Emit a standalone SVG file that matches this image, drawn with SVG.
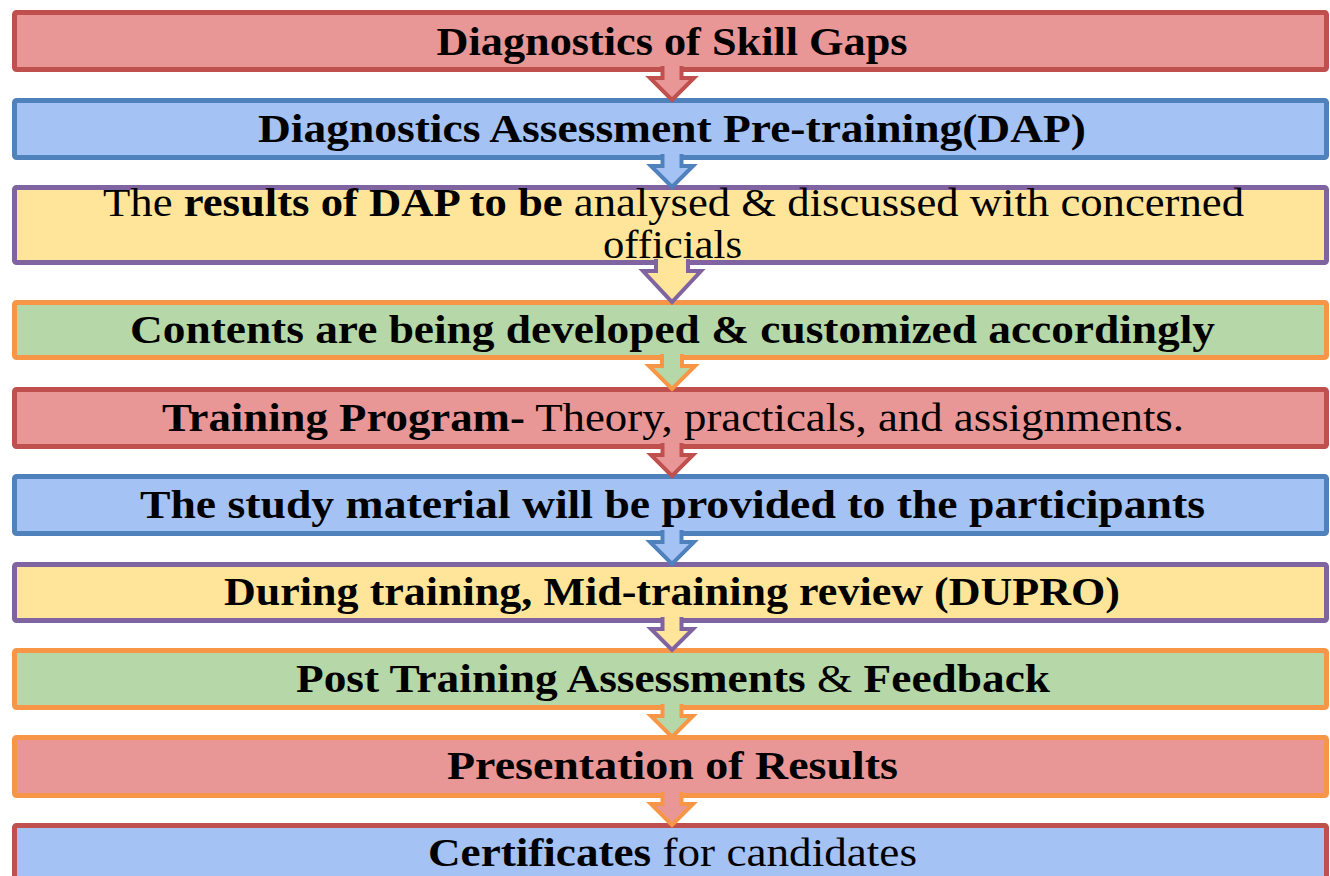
<svg xmlns="http://www.w3.org/2000/svg" width="1330" height="876" viewBox="0 0 1330 876">
<style>
.box{stroke-width:5}
.red{fill:#E99696;stroke:#C0504D}
.blue{fill:#A4C2F4;stroke:#4F81BD}
.yel{fill:#FFE599;stroke:#8064A2}
.grn{fill:#B6D7A8;stroke:#F79646}
.pinkor{fill:#E99696;stroke:#F79646}
.bluered{fill:#A4C2F4;stroke:#C0504D}
.t{font-family:"Liberation Serif","DejaVu Serif",serif;font-size:41px;fill:#000;text-anchor:middle}
.b{font-weight:bold}
.arr{stroke-width:4;stroke-linejoin:miter}
</style>
<rect width="1330" height="876" fill="#fff"/>
<g id="node1"><rect class="box red" x="14.5" y="12.5" width="1312" height="57" rx="2"/><text class="t b" x="672" y="55" textLength="471" lengthAdjust="spacingAndGlyphs">Diagnostics of Skill Gaps</text></g>
<g id="node2"><rect class="box blue" x="14.5" y="100.5" width="1312" height="57" rx="2"/><text class="t b" x="672" y="142" textLength="828" lengthAdjust="spacingAndGlyphs">Diagnostics Assessment Pre-training(DAP)</text></g>
<g id="node3"><rect class="box yel" x="14.5" y="187.5" width="1312" height="75" rx="2"/><text class="t" x="673.5" y="216" textLength="1141" lengthAdjust="spacingAndGlyphs">The <tspan class="b">results of DAP to be</tspan> analysed &amp; discussed with concerned</text><text class="t" x="672.5" y="258" textLength="139" lengthAdjust="spacingAndGlyphs">officials</text></g>
<g id="node4"><rect class="box grn" x="14.5" y="302.5" width="1312" height="55" rx="2"/><text class="t b" x="672.5" y="343" textLength="1085" lengthAdjust="spacingAndGlyphs">Contents are being developed &amp; customized accordingly</text></g>
<g id="node5"><rect class="box red" x="14.5" y="389.5" width="1312" height="57" rx="2"/><text class="t" x="673" y="431" textLength="1022" lengthAdjust="spacingAndGlyphs"><tspan class="b">Training Program-</tspan> Theory, practicals, and assignments.</text></g>
<g id="node6"><rect class="box blue" x="14.5" y="476.5" width="1312" height="57" rx="2"/><text class="t b" x="672.5" y="518" textLength="1065" lengthAdjust="spacingAndGlyphs">The study material will be provided to the participants</text></g>
<g id="node7"><rect class="box yel" x="14.5" y="564.5" width="1312" height="56" rx="2"/><text class="t b" x="672" y="605" textLength="896" lengthAdjust="spacingAndGlyphs">During training, Mid-training review (DUPRO)</text></g>
<g id="node8"><rect class="box grn" x="14.5" y="650.5" width="1312" height="57" rx="2"/><text class="t" x="673" y="692" textLength="754" lengthAdjust="spacingAndGlyphs"><tspan class="b">Post Training Assessments</tspan> &amp; <tspan class="b">Feedback</tspan></text></g>
<g id="node9"><rect class="box pinkor" x="14.5" y="737.5" width="1312" height="58" rx="2"/><text class="t b" x="672.5" y="779" textLength="451" lengthAdjust="spacingAndGlyphs">Presentation of Results</text></g>
<g id="node10"><rect class="box bluered" x="14.5" y="825.5" width="1312" height="60" rx="2"/><text class="t" x="672.5" y="866" textLength="489" lengthAdjust="spacingAndGlyphs"><tspan class="b">Certificates</tspan> for candidates</text></g>
<g id="connectors">
<path class="arr red" d="M662.5,66 V78 H650 L672,100 L694,78 H681.5 V66"/>
<path class="arr blue" d="M662.5,154 V166 H651 L672,187 L693,166 H681.5 V154"/>
<path class="arr yel" d="M656,259 V271 H643 L672,302 L701,271 H688 V259"/>
<path class="arr grn" d="M662,354 V366 H649 L672,389 L695,366 H682 V354"/>
<path class="arr red" d="M662.5,443 V455 H651 L672,476 L693,455 H681.5 V443"/>
<path class="arr blue" d="M662.5,530 V542 H650 L672,564 L694,542 H681.5 V530"/>
<path class="arr yel" d="M662.5,617 V629 H651 L672,650 L693,629 H681.5 V617"/>
<path class="arr grn" d="M662.5,704 V716 H651 L672,737 L693,716 H681.5 V704"/>
<path class="arr pinkor" d="M662.5,792 V804 H651 L672,825 L693,804 H681.5 V792"/>
</g>
</svg>
